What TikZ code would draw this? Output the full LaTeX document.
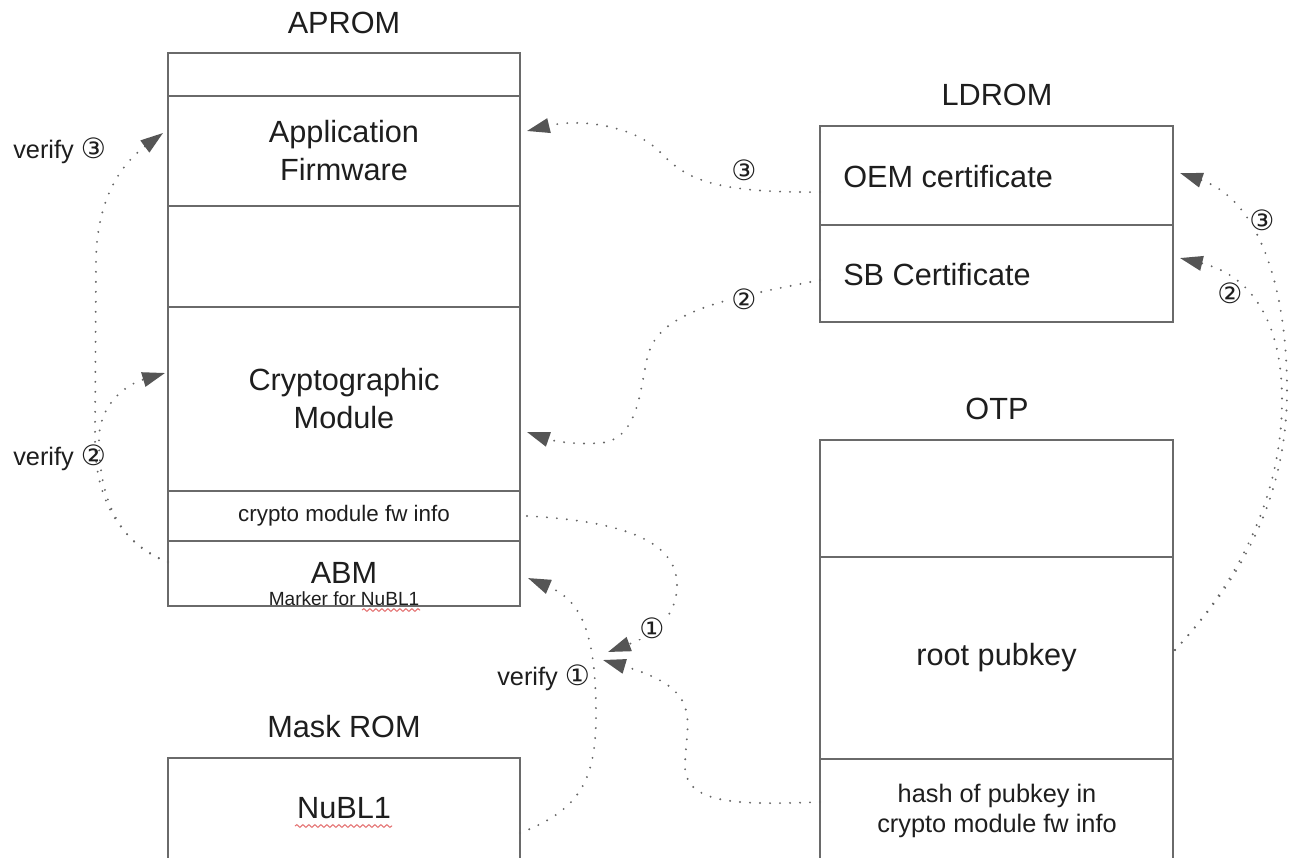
\documentclass[tikz,border=0pt]{standalone}
\usepackage{fontspec}
\setmainfont{Liberation Sans}
\newfontfamily\dvsans{DejaVu Sans}
\usetikzlibrary{arrows.meta,decorations.pathmorphing}
\definecolor{ink}{HTML}{1E1E1E}
\definecolor{boxgray}{HTML}{6A6A6A}
\definecolor{dotgray}{HTML}{666666}
\definecolor{tipgray}{HTML}{555555}
\definecolor{spellred}{HTML}{E57373}
\newcommand\stepnum[1]{{\dvsans\fontsize{21}{21}\selectfont #1}}
\begin{document}
\begin{tikzpicture}[x=0.75pt,y=-0.75pt,
  cell/.style={draw=boxgray, line width=1.5pt, inner sep=0pt, outer sep=0pt,
    anchor=north west, align=center, text=ink, font=\fontsize{23}{28.5}\selectfont},
  big/.style={inner sep=0pt, text=ink, font=\fontsize{23}{28.5}\selectfont},
  small/.style={inner sep=0pt, text=ink, align=center, font=\fontsize{19}{23}\selectfont},
  vlab/.style={inner sep=0pt, text=ink, anchor=base west, font=\fontsize{19}{23}\selectfont},
  num/.style={inner sep=0.6pt, fill=white, text=ink},
  conn/.style={draw=dotgray, line width=1.6pt, line cap=round, dash pattern=on 0pt off 7.5pt,
    -{Triangle[length=17pt,width=11pt,color=tipgray]}},
  spell/.style={draw=spellred, line width=0.8pt, decorate,
    decoration={snake, segment length=4.5pt, amplitude=1pt}}]
\useasboundingbox (0,0) rectangle (1292,857);
\clip (0,0) rectangle (1292,857);
\fill[white] (0,0) rectangle (1292,857);

% ---- APROM ----
\node[big, anchor=base] (tAprom) at (344,33) {APROM};
\node[cell, minimum width=264pt, minimum height=32.25pt] (aTop) at (168,53) {};
\node[cell, minimum width=264pt, minimum height=82.5pt] (aApp) at (168,96) {Application\\Firmware};
\node[cell, minimum width=264pt, minimum height=75.75pt] (aGap) at (168,206) {};
\node[cell, minimum width=264pt, minimum height=138pt] (aCrypto) at (168,307) {Cryptographic\\Module};
\node[cell, minimum width=264pt, minimum height=37.5pt, font=\fontsize{16.8}{20}\selectfont] (aInfo) at (168,491) {crypto module fw info};
\node[cell, minimum width=264pt, minimum height=48.75pt] (aABM) at (168,541) {};
\node[big, anchor=base] (abmText) at (344,583) {ABM};
\node[inner sep=0pt, text=ink, anchor=base, font=\fontsize{14.3}{16}\selectfont] (abmNote) at (344,605) {Marker for NuBL1};
\draw[spell] (362,610) -- (420,610);

% ---- LDROM ----
\node[big, anchor=base] (tLdrom) at (997,105) {LDROM};
\node[cell, minimum width=264.75pt, minimum height=74.25pt] (lOEM) at (820,126) {};
\node[cell, minimum width=264.75pt, minimum height=72.75pt] (lSB) at (820,225) {};
\node[big, anchor=base west] (oemText) at (843,187) {OEM certificate};
\node[big, anchor=base west] (sbText) at (843,285) {SB Certificate};

% ---- OTP ----
\node[big, anchor=base] (tOtp) at (997,419) {OTP};
\node[cell, minimum width=264.75pt, minimum height=87.75pt] (oTop) at (820,440) {};
\node[cell, minimum width=264.75pt, minimum height=151.5pt] (oKey) at (820,557) {root pubkey};
\node[cell, minimum width=264.75pt, minimum height=82.5pt] (oHash) at (820,759) {};
\node[small] (hashText) at (997,811) {hash of pubkey in\\crypto module fw info};

% ---- Mask ROM ----
\node[big, anchor=base] (tMask) at (344,737) {Mask ROM};
\node[cell, minimum width=264pt, minimum height=82.5pt] (mRom) at (168,758) {};
\node[big, anchor=base] (nublText) at (344,818) {NuBL1};
\draw[spell] (295,826) -- (392,826);

% ---- meeting points of the two step-1 checks ----
\coordinate (meetA) at (608,652);
\coordinate (meetB) at (603,660);

% ---- verification flows ----
\draw[conn] ([yshift=8.6pt]aABM.west) .. controls (125,545) and (95,505) .. (95,440)
  -- (96,260) .. controls (97,200) and (120,165) .. ([xshift=-3.75pt,yshift=13.5pt]aApp.west);
\draw[conn] ([yshift=8.6pt]aABM.west) .. controls (120,545) and (99,500) .. (99,440)
  .. controls (99,405) and (125,385) .. ([xshift=-2.25pt,yshift=19.5pt]aCrypto.west);
\draw[conn] ([yshift=-12.4pt]lOEM.west) .. controls (710,193) and (685,178) .. (660,152)
  .. controls (635,126) and (580,118) .. ([xshift=5.25pt,yshift=15pt]aApp.east);
\draw[conn] ([yshift=-4.9pt]lSB.west) .. controls (730,298) and (660,310) .. (648,355)
  .. controls (640,385) and (640,440) .. (600,443)
  .. controls (570,445) and (550,440) .. ([xshift=5.25pt,yshift=-24.75pt]aCrypto.east);
\draw[conn] ([xshift=5.25pt]aInfo.east) .. controls (620,521) and (677,540) .. (677,585)
  .. controls (677,625) and (640,640) .. (meetA);
\draw[conn] ([yshift=9pt]oHash.west) .. controls (740,805) and (684,805) .. (685,765)
  .. controls (686,720) and (705,690) .. (meetB);
\draw[conn] ([yshift=-15pt]mRom.east) .. controls (580,810) and (596,780) .. (596,715)
  .. controls (596,630) and (580,600) .. ([xshift=6pt,yshift=-3.4pt]aABM.east);
\draw[conn] ([xshift=1.5pt,yshift=6pt]oKey.east) .. controls (1240,580) and (1287,500) .. (1287,390)
  .. controls (1287,290) and (1260,200) .. ([xshift=5.25pt,yshift=1.9pt]lOEM.east);
\draw[conn] ([xshift=1.5pt,yshift=6pt]oKey.east) .. controls (1235,585) and (1282,500) .. (1282,400)
  .. controls (1282,320) and (1250,275) .. ([xshift=5.25pt,yshift=11.6pt]lSB.east);

% ---- step labels ----
\node[num] (n3a) at (744,170) {\stepnum{③}};
\node[num] (n2a) at (744,299) {\stepnum{②}};
\node[num] (n1a) at (652,628) {\stepnum{①}};
\node[num] (n3b) at (1262,220) {\stepnum{③}};
\node[num] (n2b) at (1230,293) {\stepnum{②}};
\node[vlab] (v3) at (13,158) {verify \stepnum{③}};
\node[vlab] (v2) at (13,465) {verify \stepnum{②}};
\node[vlab] (v1) at (497,685) {verify \stepnum{①}};
\end{tikzpicture}
\end{document}
